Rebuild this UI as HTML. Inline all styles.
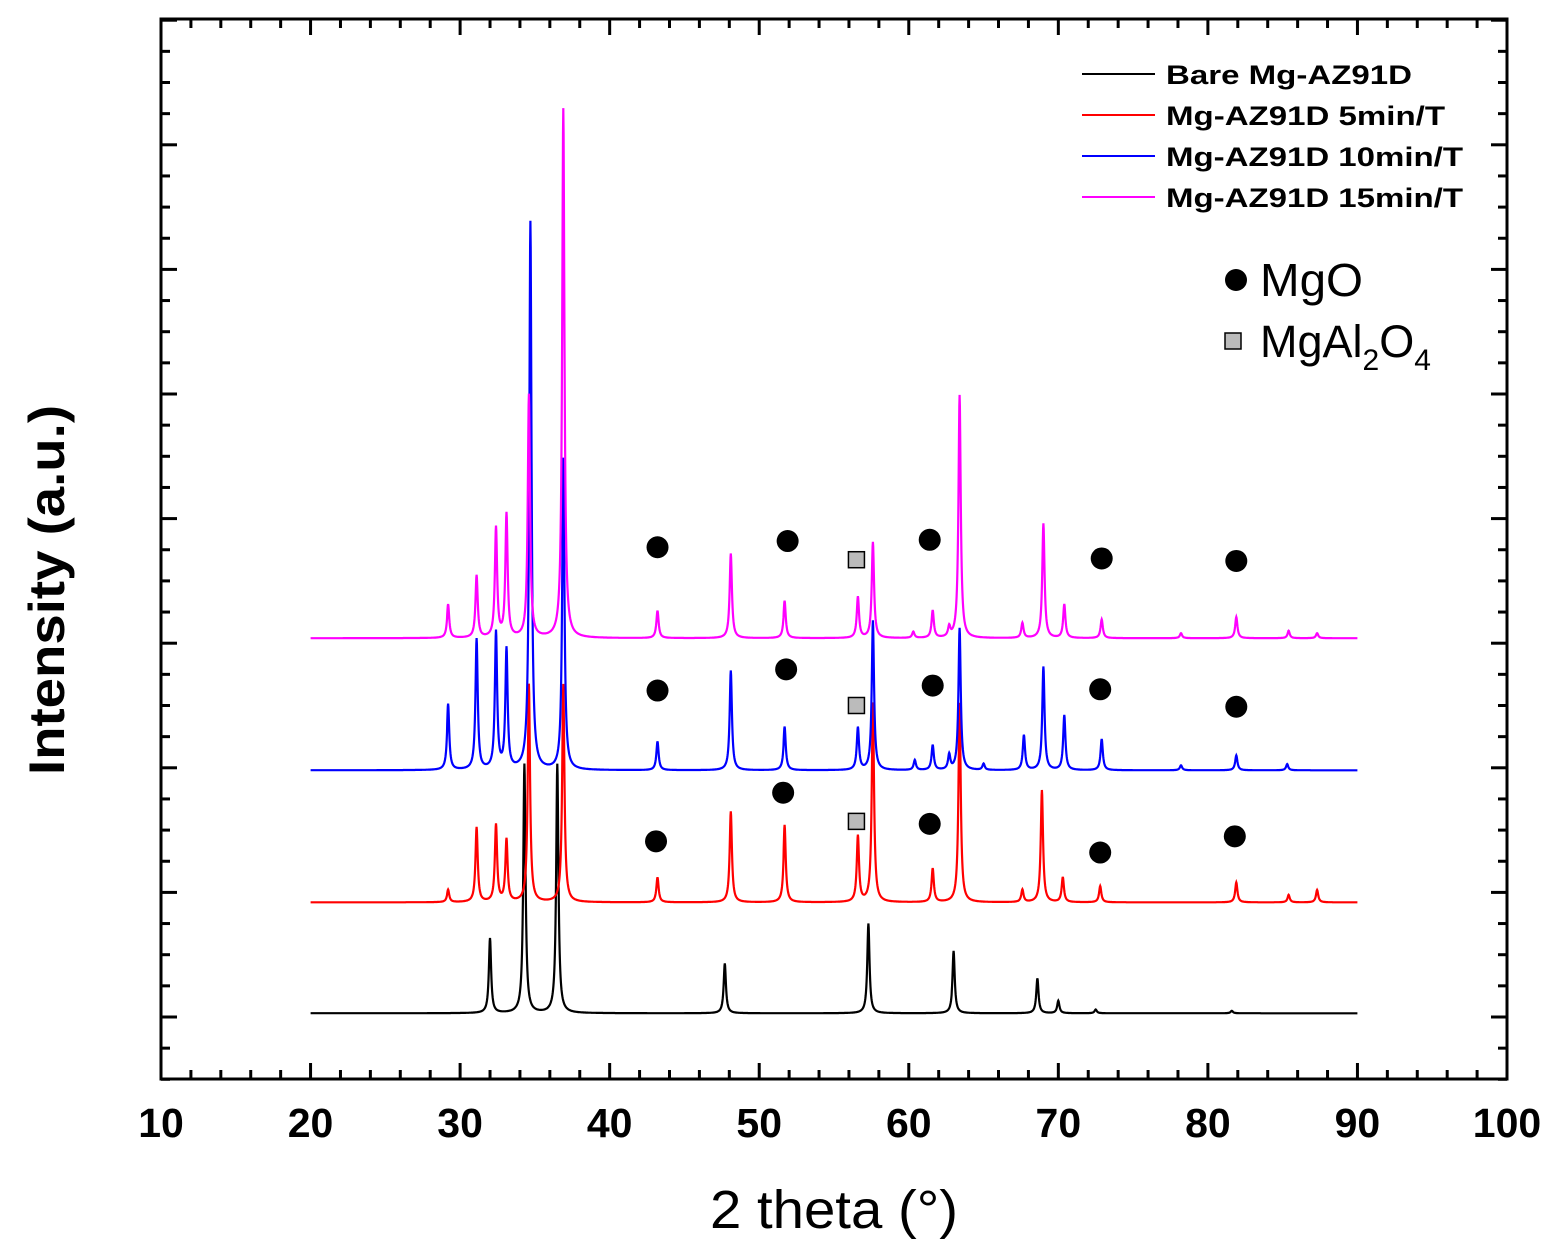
<!DOCTYPE html>
<html><head><meta charset="utf-8"><style>
body{margin:0;background:#fff}
svg text{font-family:"Liberation Sans",Arial,sans-serif}
</style></head><body>
<svg id="chart" width="1563" height="1252" viewBox="0 0 1563 1252" xmlns="http://www.w3.org/2000/svg">
<rect x="161" y="19" width="1346" height="1060" fill="none" stroke="#000" stroke-width="3"/>
<g id="ticks"></g>
<g id="series"></g>
<g id="markers"></g>
<text x="834" y="1228" font-size="54" text-anchor="middle" textLength="248" lengthAdjust="spacingAndGlyphs">2 theta (°)</text>
<text transform="translate(64,590) rotate(-90)" font-size="50" font-weight="bold" text-anchor="middle" textLength="370" lengthAdjust="spacingAndGlyphs">Intensity (a.u.)</text>
<g font-size="27" font-weight="bold">
<g><line x1="1082" y1="74" x2="1155" y2="74" stroke="#000" stroke-width="2"/><text x="1166" y="84" textLength="246" lengthAdjust="spacingAndGlyphs">Bare Mg-AZ91D</text></g>
<g><line x1="1082" y1="115" x2="1155" y2="115" stroke="#f00" stroke-width="2"/><text x="1166" y="125" textLength="279" lengthAdjust="spacingAndGlyphs">Mg-AZ91D 5min/T</text></g>
<g><line x1="1082" y1="156" x2="1155" y2="156" stroke="#00f" stroke-width="2"/><text x="1166" y="166" textLength="297" lengthAdjust="spacingAndGlyphs">Mg-AZ91D 10min/T</text></g>
<g><line x1="1082" y1="197" x2="1155" y2="197" stroke="#f0f" stroke-width="2"/><text x="1166" y="207" textLength="297" lengthAdjust="spacingAndGlyphs">Mg-AZ91D 15min/T</text></g>
<g><circle cx="1236" cy="280" r="11" fill="#000"/><text x="1260" y="296" font-size="46" font-weight="normal" textLength="103" lengthAdjust="spacingAndGlyphs">MgO</text></g>
<g><rect x="1225" y="333" width="16" height="16" fill="#bbb" stroke="#000" stroke-width="1.5"/><text x="1260" y="357" font-size="45" font-weight="normal">MgAl<tspan font-size="30" dy="13">2</tspan><tspan dy="-13">O</tspan><tspan font-size="30" dy="13">4</tspan></text></g>
</g>
</svg>
<script>
const xTicks=[10,20,30,40,50,60,70,80,90,100];
const bareBase=0.03, red5Base=0.92, blue10Base=1.98, mag15Base=3.04;
const barePos=[32.0,34.3,36.5,47.7,57.3,63.0,68.6,70.0,72.5,81.6];
const bareInt=[0.6,2.0,2.0,0.4,0.72,0.5,0.28,0.1,0.03,0.02];
const red5Pos=[29.2,31.1,32.4,33.1,34.6,36.9,43.2,48.1,51.7,56.6,57.6,61.6,63.4,67.6,68.9,70.3,72.8,81.9,85.4,87.3];
const red5Int=[0.1,0.6,0.62,0.5,1.75,1.75,0.2,0.73,0.62,0.53,1.6,0.27,1.6,0.1,0.9,0.2,0.13,0.16,0.06,0.1];
const blue10Pos=[29.2,31.1,32.4,33.1,34.7,36.9,43.2,48.1,51.7,56.6,57.6,60.4,61.6,62.7,63.4,65.0,67.7,69.0,70.4,72.9,78.2,81.9,85.3];
const blue10Int=[0.53,1.05,1.1,0.96,4.4,2.5,0.23,0.8,0.35,0.34,1.2,0.08,0.2,0.12,1.14,0.05,0.28,0.83,0.44,0.25,0.04,0.12,0.05];
const mag15Pos=[29.2,31.1,32.4,33.1,34.6,36.9,43.2,48.1,51.7,56.6,57.6,60.3,61.6,62.7,63.4,67.6,69.0,70.4,72.9,78.2,81.9,85.4,87.3];
const mag15Int=[0.27,0.5,0.88,0.99,1.95,4.25,0.22,0.68,0.3,0.33,0.77,0.05,0.22,0.08,1.95,0.12,0.92,0.27,0.15,0.04,0.17,0.06,0.04];
const mgoX=[43.2,51.9,61.4,72.9,81.9, 43.2,51.8,61.6,72.8,81.9, 43.1,51.6,61.4,72.8,81.8];
const mgoY=[3.77,3.82,3.83,3.68,3.66, 2.62,2.79,2.66,2.63,2.49, 1.41,1.8,1.55,1.32,1.45];
const spinelX=[56.5,56.5,56.5];
const spinelY=[3.67,2.5,1.57];
const X=v=>161+(v-10)*(1346/90);
const Y=v=>1017-v*124.6;
const NS="http://www.w3.org/2000/svg";
const tg=document.getElementById('ticks');
function ln(g,x1,y1,x2,y2,w,c){const l=document.createElementNS(NS,'line');l.setAttribute('x1',x1);l.setAttribute('y1',y1);l.setAttribute('x2',x2);l.setAttribute('y2',y2);l.setAttribute('stroke',c||'#000');l.setAttribute('stroke-width',w);g.appendChild(l);return l;}
for(let v=10;v<=100;v+=2){const maj=v%10===0;const L=maj?16:9;const x=X(v);
ln(tg,x,1079,x,1079-L,3);ln(tg,x,19,x,19+L,3);}
xTicks.forEach(v=>{const t=document.createElementNS(NS,'text');


t.setAttribute('x',X(v));t.setAttribute('y',1137);t.setAttribute('font-size','41');t.setAttribute('font-weight','bold');t.setAttribute('text-anchor','middle');t.textContent=v;tg.appendChild(t);});
for(let v=-0.5;v<=8.01;v+=0.25){const maj=Math.abs(v-Math.round(v))<0.01;const L=maj?16:9;const y=Y(v);
ln(tg,161,y,161+L,y,3);ln(tg,1507,y,1507-L,y,3);}
const sg=document.getElementById('series');
function series(name,base,pos,inten,color){let d='';const w=0.09;
for(let t=20;t<=90.001;t+=0.02){let s=base;for(let i=0;i<pos.length;i++){const dx=(t-pos[i])/w;s+=inten[i]/(1+dx*dx);}
d+=(d?'L':'M')+X(t).toFixed(1)+' '+Y(s).toFixed(1);}
const p=document.createElementNS(NS,'path');p.setAttribute('d',d);p.setAttribute('fill','none');p.setAttribute('stroke',color);p.setAttribute('stroke-width','2.2');


sg.appendChild(p);}
series('bare-series',bareBase,barePos,bareInt,'#000');
series('5min-series',red5Base,red5Pos,red5Int,'#f00');
series('10min-series',blue10Base,blue10Pos,blue10Int,'#00f');
series('15min-series',mag15Base,mag15Pos,mag15Int,'#f0f');
const mg=document.getElementById('markers');
mgoX.forEach((v,i)=>{const c=document.createElementNS(NS,'circle');c.setAttribute('cx',X(v));c.setAttribute('cy',Y(mgoY[i]));c.setAttribute('r',11);


mg.appendChild(c);});
spinelX.forEach((v,i)=>{const r=document.createElementNS(NS,'rect');r.setAttribute('x',X(v)-8);r.setAttribute('y',Y(spinelY[i])-8);r.setAttribute('width',16);r.setAttribute('height',16);r.setAttribute('fill','#bbb');r.setAttribute('stroke','#000');r.setAttribute('stroke-width','1.5');


mg.appendChild(r);});
</script>
</body></html>
